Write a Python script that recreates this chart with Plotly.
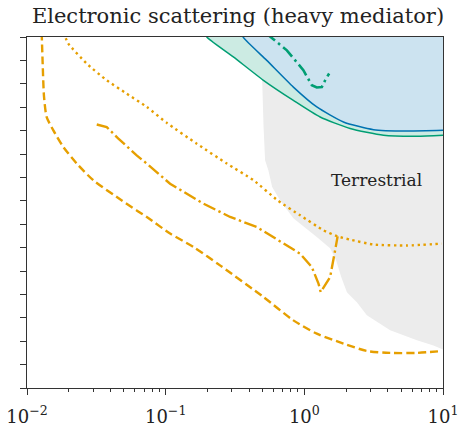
import numpy as np
import plotly.graph_objects as go

# ---- data (x: mass, y: log10 of cross-section) ----
dashed_x = [0.01276, 0.01297, 0.01327, 0.01387, 0.01549, 0.01828, 0.02286, 0.03006, 0.04446, 0.06180, 0.07311, 0.1076, 0.1585, 0.2466, 0.5070, 0.8337, 1.230, 1.914, 2.825, 4.159, 6.486, 9.817]
dashed_y = [-29.8, -31.12, -32.56, -33.42, -33.99, -34.70, -35.41, -36.12, -36.84, -37.41, -37.69, -38.40, -38.97, -39.76, -41.11, -42.11, -42.68, -43.10, -43.42, -43.50, -43.50, -43.42]

dotted_x = [0.01828, 0.01986, 0.02698, 0.03758, 0.05236, 0.07311, 0.1019, 0.1675, 0.2761, 0.4295, 0.6412, 0.9333, 1.374, 1.734, 2.138, 3.155, 5.495, 9.817]
dotted_y = [-29.8, -30.28, -31.14, -31.85, -32.42, -32.99, -33.67, -34.56, -35.41, -36.12, -36.98, -37.62, -38.26, -38.52, -38.66, -38.87, -38.91, -38.83]

dashdot_x = [0.03184, 0.03758, 0.04539, 0.06180, 0.07311, 0.1076, 0.1871, 0.2917, 0.4539, 0.6683, 0.9333, 1.132, 1.265, 1.312, 1.535, 1.667, 1.738]
dashdot_y = [-33.74, -33.85, -34.33, -35.06, -35.41, -36.27, -37.12, -37.69, -38.12, -38.73, -39.26, -39.83, -40.54, -40.90, -40.26, -39.12, -38.52]

teal_x = [0.5200, 0.7482, 0.9840, 1.132, 1.230, 1.337, 1.413, 1.510]
teal_y = [-29.8, -30.57, -31.42, -32.06, -32.16, -32.14, -31.85, -31.56]

blue_x = [0.3550, 0.3614, 0.5358, 0.8337, 1.230, 1.914, 3.155, 5.495, 10.0]
blue_y = [-29.8, -30.0, -31.00, -32.14, -32.99, -33.63, -33.96, -34.02, -33.99]

green_x = [0.1930, 0.1982, 0.3076, 0.5070, 0.8337, 1.300, 2.138, 3.724, 6.486, 10.0]
green_y = [-29.8, -30.0, -30.85, -31.85, -32.71, -33.42, -33.91, -34.20, -34.24, -34.20]

terr_x = [0.4966, 0.4966, 0.5082, 0.5212, 0.5508, 0.5861, 0.6683, 0.8337, 1.230, 1.535, 1.694, 1.845, 2.028, 2.393, 2.825, 4.159, 6.486, 8.531, 10.0]
terr_y = [-29.8, -31.85, -33.85, -35.27, -35.70, -36.41, -36.98, -37.75, -38.55, -39.03, -39.54, -40.26, -40.91, -41.34, -41.89, -42.53, -42.96, -43.18, -43.35]

x_tickvals = [0.01, 0.1, 1, 10]
x_ticktext = ["10<sup>−2</sup>", "10<sup>−1</sup>", "10<sup>0</sup>", "10<sup>1</sup>"]
y_decades = list(range(-45, -29))

ORANGE = "#E69F00"
TEAL = "#009E73"
BLUE = "#0072B2"
SERIF = "DejaVu Serif"

def p(v):
    return [10.0 ** e for e in v]

fig = go.Figure()

# Terrestrial region
tx = terr_x + [10.0, 10.0]
ty = terr_y + [-29.8, -29.8]
fig.add_trace(go.Scatter(x=tx, y=p(ty), fill="toself", mode="none",
                         fillcolor="rgb(236,236,236)", hoverinfo="skip"))

# green filled region
gx = green_x + [10.0, 10.0]
gy = green_y + [-29.8, -29.8]
fig.add_trace(go.Scatter(x=gx, y=p(gy), fill="toself", mode="none",
                         fillcolor="rgb(204,235,227)", hoverinfo="skip"))
# blue filled region
bx = blue_x + [10.0, 10.0]
by = blue_y + [-29.8, -29.8]
fig.add_trace(go.Scatter(x=bx, y=p(by), fill="toself", mode="none",
                         fillcolor="rgb(204,227,240)", hoverinfo="skip"))

fig.add_trace(go.Scatter(x=green_x, y=p(green_y), mode="lines",
                         line=dict(color=TEAL, width=1.5, shape="spline", smoothing=0.6)))
fig.add_trace(go.Scatter(x=blue_x, y=p(blue_y), mode="lines",
                         line=dict(color=BLUE, width=1.5, shape="spline", smoothing=0.6)))
fig.add_trace(go.Scatter(x=teal_x, y=p(teal_y), mode="lines",
                         line=dict(color=TEAL, width=2.6, dash="13px,4px,2.5px,4px")))

fig.add_trace(go.Scatter(x=dashed_x, y=p(dashed_y), mode="lines",
                         line=dict(color=ORANGE, width=2.4, dash="8px,4px", shape="spline", smoothing=0.7)))
fig.add_trace(go.Scatter(x=dotted_x, y=p(dotted_y), mode="lines",
                         line=dict(color=ORANGE, width=2.4, dash="2.4px,3.6px", shape="spline", smoothing=0.5)))
fig.add_trace(go.Scatter(x=dashdot_x, y=p(dashdot_y), mode="lines",
                         line=dict(color=ORANGE, width=2.4, dash="13px,3.5px,2.4px,3.5px")))

fig.add_annotation(x=np.log10(3.30), y=-36.12, xref="x", yref="y", text="Terrestrial",
                   showarrow=False, font=dict(family=SERIF, size=17, color="#222"))

minor_vals = [m * 10.0 ** d for d in (-2, -1, 0) for m in range(2, 10)]

fig.update_xaxes(type="log", range=[-2, 1], showgrid=False, zeroline=False, automargin=False,
                 tickmode="array", tickvals=x_tickvals, ticktext=x_ticktext,
                 ticks="outside", ticklen=6, tickwidth=1, tickcolor="#333",
                 ticklabelstandoff=6,
                 showline=True, linecolor="#333", linewidth=1, mirror=True,
                 tickfont=dict(family=SERIF, size=18, color="#222"),
                 minor=dict(tickmode="array", tickvals=minor_vals, ticks="outside",
                            ticklen=3, tickwidth=1, tickcolor="#333", showgrid=False))
fig.update_yaxes(type="log", range=[-45, -30], showgrid=False, zeroline=False, automargin=False,
                 tickmode="array", tickvals=p(y_decades), showticklabels=False,
                 ticks="outside", ticklen=6, tickwidth=1, tickcolor="#333",
                 showline=True, linecolor="#333", linewidth=1, mirror=True)

fig.update_layout(
    width=462, height=429,
    margin=dict(l=27, r=19, t=37, b=41),
    plot_bgcolor="white", paper_bgcolor="white",
    showlegend=False,
    title=dict(text="Electronic scattering (heavy mediator)", x=238 / 462, xref="container",
               xanchor="center", y=1 - 16 / 429, yref="container", yanchor="middle",
               font=dict(family=SERIF, size=21, color="#222")),
)

fig.write_html("out.html", config={"displayModeBar": False},
               post_script="document.body.style.margin='0';document.body.style.padding='0';")
